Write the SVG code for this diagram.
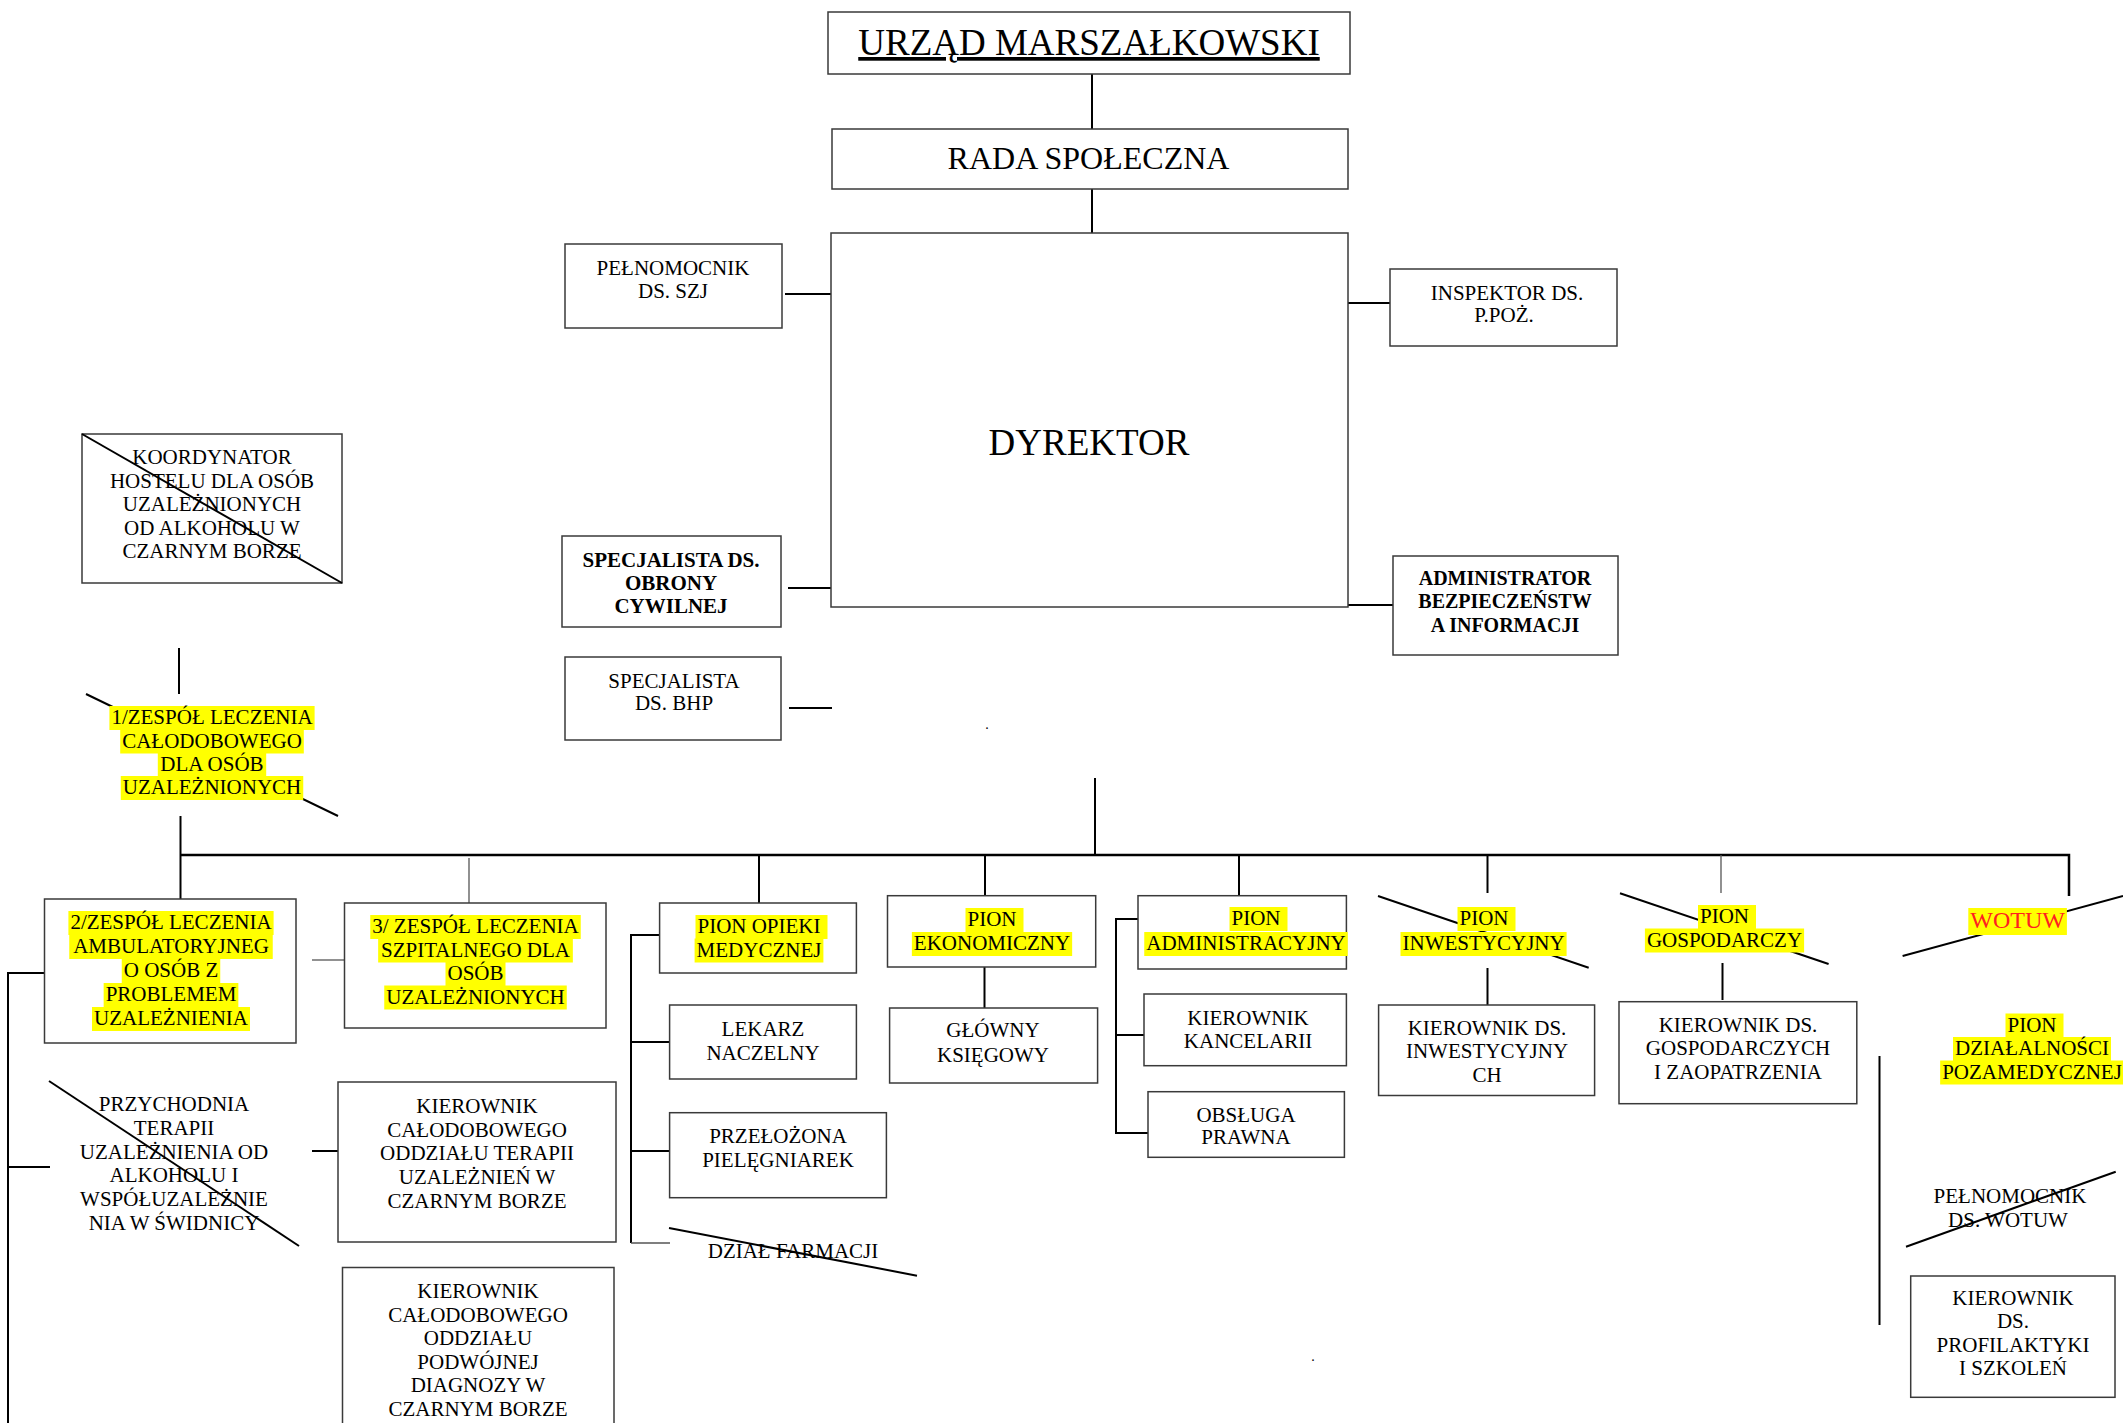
<svg xmlns="http://www.w3.org/2000/svg" width="2123" height="1423" viewBox="0 0 2123 1423">
<style>
.bg{fill:#fff}
.box{fill:#fff;stroke:#3a3a3a;stroke-width:1.5}
.t{font-family:"Liberation Serif","Times New Roman",serif;font-size:21px;text-anchor:middle;fill:#000}
.b{font-weight:bold}
.hl{fill:#ffff00}
.c{stroke:#000;stroke-width:2;fill:none}
.thin{stroke:#555;stroke-width:1.3;fill:none}
.bus{stroke:#000;stroke-width:2.5;fill:none}
.x{stroke:#000;stroke-width:2}
.red{fill:#ff2020}
</style>
<rect class="bg" x="0" y="0" width="2123" height="1423"/>

<g id="connectors">
<line class="c" x1="1092" y1="74" x2="1092" y2="129"/>
<line class="c" x1="1092" y1="189" x2="1092" y2="233"/>
<line class="c" x1="785" y1="294" x2="831" y2="294"/>
<line class="c" x1="1348" y1="303" x2="1390" y2="303"/>
<line class="c" x1="788" y1="588" x2="831" y2="588"/>
<line class="c" x1="1348" y1="605" x2="1396" y2="605"/>
<line class="c" x1="789" y1="708" x2="832" y2="708"/>
<line class="c" x1="1095" y1="778" x2="1095" y2="856"/>
<path class="bus" d="M180,855 H2069 V896"/>
<line class="c" x1="179" y1="648" x2="179" y2="694"/>
<line class="c" x1="180.5" y1="816" x2="180.5" y2="899"/>
<line class="thin" x1="469" y1="858" x2="469" y2="903"/>
<line class="thin" x1="312" y1="960" x2="344" y2="960"/>
<path class="c" d="M45,973 H8 V1423 M8,1167 H50"/>
<line class="c" x1="312" y1="1151" x2="340" y2="1151"/>
<line class="c" x1="759" y1="855" x2="759" y2="903"/>
<path class="c" d="M660,935 H631 V1243 M631,1042 H669 M631,1151 H670"/>
<line class="thin" x1="631" y1="1243" x2="670" y2="1243"/>
<line class="c" x1="985" y1="855" x2="985" y2="896"/>
<line class="c" x1="984.5" y1="967" x2="984.5" y2="1008"/>
<line class="c" x1="1239" y1="855" x2="1239" y2="896"/>
<path class="c" d="M1143,919 H1116 V1133 H1150 M1116,1035 H1148"/>
<line class="c" x1="1487.5" y1="855" x2="1487.5" y2="893"/>
<line class="c" x1="1487.5" y1="968" x2="1487.5" y2="1005"/>
<line class="thin" x1="1721" y1="855" x2="1721" y2="893"/>
<line class="c" x1="1722.5" y1="963" x2="1722.5" y2="1000"/>
<line class="c" x1="1879.5" y1="1056" x2="1879.5" y2="1325"/>
</g>

<g id="urzad">
<rect class="box" x="828" y="12" width="522" height="62"/>
<text class="t" x="1089" y="55" style="font-size:37px;text-decoration:underline">URZĄD MARSZAŁKOWSKI</text>
</g>
<g id="rada">
<rect class="box" x="832" y="129" width="516" height="60"/>
<text class="t" x="1088.5" y="169" style="font-size:32px">RADA SPOŁECZNA</text>
</g>
<g id="dyrektor">
<rect class="box" x="831" y="233" width="517" height="374"/>
<text class="t" x="1089" y="455" style="font-size:37px">DYREKTOR</text>
</g>
<g id="pelnomocnik-szj">
<rect class="box" x="565" y="244" width="217" height="84"/>
<text class="t"><tspan x="673" y="275">PEŁNOMOCNIK</tspan><tspan x="673" y="298">DS. SZJ</tspan></text>
</g>
<g id="inspektor">
<rect class="box" x="1390" y="269" width="227" height="77"/>
<text class="t"><tspan x="1507" y="300">INSPEKTOR DS.</tspan><tspan x="1504" y="322">P.POŻ.</tspan></text>
</g>
<g id="specjalista-oc">
<rect class="box" x="562" y="536" width="219" height="91"/>
<text class="t b"><tspan x="671" y="567">SPECJALISTA DS.</tspan><tspan x="671" y="590">OBRONY</tspan><tspan x="671" y="613">CYWILNEJ</tspan></text>
</g>
<g id="administrator">
<rect class="box" x="1393" y="556" width="225" height="99"/>
<text class="t b" style="font-size:20px"><tspan x="1505" y="585">ADMINISTRATOR</tspan><tspan x="1505" y="608">BEZPIECZEŃSTW</tspan><tspan x="1505" y="631.5">A INFORMACJI</tspan></text>
</g>
<g id="specjalista-bhp">
<rect class="box" x="565" y="657" width="216" height="83"/>
<text class="t"><tspan x="674" y="688">SPECJALISTA</tspan><tspan x="674" y="710">DS. BHP</tspan></text>
</g>
<g id="dots">
<text class="t" x="987" y="729" style="font-size:14px">.</text>
<text class="t" x="1313" y="1361" style="font-size:14px">.</text>
</g>

<g id="koordynator">
<rect class="box" x="82" y="434" width="260" height="149"/>
<text class="t"><tspan x="212" y="464">KOORDYNATOR</tspan><tspan x="212" y="487.5">HOSTELU DLA OSÓB</tspan><tspan x="212" y="511">UZALEŻNIONYCH</tspan><tspan x="212" y="534.5">OD ALKOHOLU W</tspan><tspan x="212" y="558">CZARNYM BORZE</tspan></text>
<line class="x" x1="82" y1="434" x2="342" y2="583"/>
</g>

<g id="zespol1">
<line class="x" x1="86" y1="694" x2="338" y2="816"/>
<rect class="hl" x="109.4" y="706" width="205.2" height="24"/>
<rect class="hl" x="120.2" y="729.5" width="183.6" height="24"/>
<rect class="hl" x="157.8" y="753" width="108.4" height="24"/>
<rect class="hl" x="120.75" y="776" width="182.5" height="24"/>
<text class="t"><tspan x="212" y="724">1/ZESPÓŁ LECZENIA</tspan><tspan x="212" y="747.5">CAŁODOBOWEGO</tspan><tspan x="212" y="771">DLA OSÓB</tspan><tspan x="212" y="794">UZALEŻNIONYCH</tspan></text>
</g>

<g id="zespol2">
<rect class="box" x="44.5" y="899" width="251.5" height="144"/>
<rect class="hl" x="68.4" y="911" width="205.2" height="24"/>
<rect class="hl" x="69.25" y="935" width="203.5" height="24"/>
<rect class="hl" x="121.75" y="959" width="98.5" height="24"/>
<rect class="hl" x="103.65" y="983" width="134.7" height="24"/>
<rect class="hl" x="92" y="1007" width="158" height="24"/>
<text class="t"><tspan x="171" y="929">2/ZESPÓŁ LECZENIA</tspan><tspan x="171" y="953">AMBULATORYJNEG</tspan><tspan x="171" y="977">O OSÓB Z</tspan><tspan x="171" y="1001">PROBLEMEM</tspan><tspan x="171" y="1025">UZALEŻNIENIA</tspan></text>
</g>

<g id="zespol3">
<rect class="box" x="344.5" y="903" width="261.5" height="125"/>
<rect class="hl" x="370.25" y="915" width="210.5" height="24"/>
<rect class="hl" x="378.15" y="938.5" width="194.7" height="24"/>
<rect class="hl" x="445.5" y="962" width="60" height="24"/>
<rect class="hl" x="384.25" y="985.5" width="182.5" height="24"/>
<text class="t"><tspan x="475.5" y="933">3/ ZESPÓŁ LECZENIA</tspan><tspan x="475.5" y="956.5">SZPITALNEGO DLA</tspan><tspan x="475.5" y="980">OSÓB</tspan><tspan x="475.5" y="1003.5">UZALEŻNIONYCH</tspan></text>
</g>

<g id="przychodnia">
<text class="t"><tspan x="174" y="1111">PRZYCHODNIA</tspan><tspan x="174" y="1135">TERAPII</tspan><tspan x="174" y="1158.5">UZALEŻNIENIA OD</tspan><tspan x="174" y="1182">ALKOHOLU I</tspan><tspan x="174" y="1206">WSPÓŁUZALEŻNIE</tspan><tspan x="174" y="1229.5">NIA W ŚWIDNICY</tspan></text>
<line class="x" x1="49" y1="1081" x2="299" y2="1246"/>
</g>

<g id="kierownik-terapii">
<rect class="box" x="338" y="1082" width="278" height="160"/>
<text class="t"><tspan x="477" y="1113">KIEROWNIK</tspan><tspan x="477" y="1136.7">CAŁODOBOWEGO</tspan><tspan x="477" y="1160.4">ODDZIAŁU TERAPII</tspan><tspan x="477" y="1184.1">UZALEŻNIEŃ W</tspan><tspan x="477" y="1207.8">CZARNYM BORZE</tspan></text>
</g>

<g id="kierownik-podwojnej">
<rect class="box" x="342.5" y="1267.5" width="271.5" height="175"/>
<text class="t"><tspan x="478" y="1298">KIEROWNIK</tspan><tspan x="478" y="1321.5">CAŁODOBOWEGO</tspan><tspan x="478" y="1345">ODDZIAŁU</tspan><tspan x="478" y="1368.5">PODWÓJNEJ</tspan><tspan x="478" y="1392">DIAGNOZY W</tspan><tspan x="478" y="1415.5">CZARNYM BORZE</tspan></text>
</g>

<g id="pion-opieki">
<rect class="box" x="659.6" y="903" width="196.8" height="70"/>
<rect class="hl" x="695.5" y="915" width="132" height="24"/>
<rect class="hl" x="694.6" y="938.5" width="128.8" height="24"/>
<text class="t"><tspan x="759" y="933">PION OPIEKI</tspan><tspan x="759" y="956.5">MEDYCZNEJ</tspan></text>
</g>
<g id="lekarz">
<rect class="box" x="669.6" y="1005" width="186.8" height="74"/>
<text class="t"><tspan x="763" y="1036">LEKARZ</tspan><tspan x="763" y="1059.5">NACZELNY</tspan></text>
</g>
<g id="przelozona">
<rect class="box" x="669.6" y="1112.7" width="216.8" height="85"/>
<text class="t"><tspan x="778" y="1143">PRZEŁOŻONA</tspan><tspan x="778" y="1166.7">PIELĘGNIAREK</tspan></text>
</g>
<g id="dzial-farmacji">
<text class="t" x="793" y="1258">DZIAŁ FARMACJI</text>
<line class="x" x1="669" y1="1228" x2="917" y2="1275.7"/>
</g>

<g id="pion-ekonomiczny">
<rect class="box" x="887.5" y="895.7" width="208.2" height="71.3"/>
<rect class="hl" x="965.5" y="908" width="58" height="24"/>
<rect class="hl" x="911.85" y="932" width="160.3" height="24"/>
<text class="t"><tspan x="992" y="926">PION</tspan><tspan x="992" y="950">EKONOMICZNY</tspan></text>
</g>
<g id="glowny-ksiegowy">
<rect class="box" x="889.6" y="1008" width="208" height="75"/>
<text class="t"><tspan x="993" y="1037">GŁÓWNY</tspan><tspan x="993" y="1061.7">KSIĘGOWY</tspan></text>
</g>

<g id="pion-administracyjny">
<rect class="box" x="1138" y="895.7" width="208.4" height="73.3"/>
<rect class="hl" x="1229.5" y="907" width="58" height="24"/>
<rect class="hl" x="1144.25" y="932" width="203.5" height="24"/>
<text class="t"><tspan x="1256" y="925">PION</tspan><tspan x="1246" y="950">ADMINISTRACYJNY</tspan></text>
</g>
<g id="kierownik-kancelarii">
<rect class="box" x="1144" y="994" width="202.4" height="71.7"/>
<text class="t"><tspan x="1248" y="1025">KIEROWNIK</tspan><tspan x="1248" y="1048.3">KANCELARII</tspan></text>
</g>
<g id="obsluga-prawna">
<rect class="box" x="1148" y="1091.7" width="196.4" height="65.6"/>
<text class="t"><tspan x="1246" y="1121.7">OBSŁUGA</tspan><tspan x="1246" y="1144.3">PRAWNA</tspan></text>
</g>

<g id="pion-inwestycyjny">
<line class="x" x1="1378" y1="896" x2="1588.7" y2="967.7"/>
<rect class="hl" x="1457.5" y="907" width="58" height="24"/>
<rect class="hl" x="1400.5" y="932" width="166.1" height="24"/>
<text class="t"><tspan x="1484" y="925">PION</tspan><tspan x="1483.6" y="950">INWESTYCYJNY</tspan></text>
</g>
<g id="kierownik-inwestycji">
<rect class="box" x="1378.6" y="1005" width="216" height="90.5"/>
<text class="t"><tspan x="1487" y="1035">KIEROWNIK DS.</tspan><tspan x="1487" y="1058.3">INWESTYCYJNY</tspan><tspan x="1487" y="1082">CH</tspan></text>
</g>

<g id="pion-gospodarczy">
<line class="x" x1="1620" y1="893.3" x2="1828.6" y2="964"/>
<rect class="hl" x="1698" y="905" width="58" height="24"/>
<rect class="hl" x="1644.9" y="928.5" width="159.2" height="24"/>
<text class="t"><tspan x="1724.5" y="923">PION</tspan><tspan x="1724.5" y="946.5">GOSPODARCZY</tspan></text>
</g>
<g id="kierownik-gospodarczy">
<rect class="box" x="1619" y="1001.7" width="237.8" height="102"/>
<text class="t"><tspan x="1738" y="1031.7">KIEROWNIK DS.</tspan><tspan x="1738" y="1055">GOSPODARCZYCH</tspan><tspan x="1738" y="1079.3">I ZAOPATRZENIA</tspan></text>
</g>

<g id="wotuw">
<line class="x" x1="1902.6" y1="956" x2="2123" y2="896"/>
<rect class="hl" x="1968.3" y="908" width="98.6" height="27"/>
<text class="t red" x="2017.6" y="928" style="font-size:24px">WOTUW</text>
</g>
<g id="pion-pozamedycznej">
<rect class="hl" x="2005.5" y="1013.5" width="58" height="24"/>
<rect class="hl" x="1953" y="1037" width="158" height="24"/>
<rect class="hl" x="1940.15" y="1060.5" width="183.7" height="24"/>
<text class="t"><tspan x="2032" y="1031.5">PION</tspan><tspan x="2032" y="1055">DZIAŁALNOŚCI</tspan><tspan x="2032" y="1078.5">POZAMEDYCZNEJ</tspan></text>
</g>
<g id="pelnomocnik-wotuw">
<text class="t"><tspan x="2010" y="1203.3">PEŁNOMOCNIK</tspan><tspan x="2008" y="1226.7">DS. WOTUW</tspan></text>
<line class="x" x1="1906" y1="1246.7" x2="2115.7" y2="1171.7"/>
</g>
<g id="kierownik-profilaktyki">
<rect class="box" x="1910.7" y="1276" width="204.3" height="121.3"/>
<text class="t"><tspan x="2013" y="1305">KIEROWNIK</tspan><tspan x="2013" y="1328.3">DS.</tspan><tspan x="2013" y="1351.7">PROFILAKTYKI</tspan><tspan x="2013" y="1375">I SZKOLEŃ</tspan></text>
</g>
</svg>
